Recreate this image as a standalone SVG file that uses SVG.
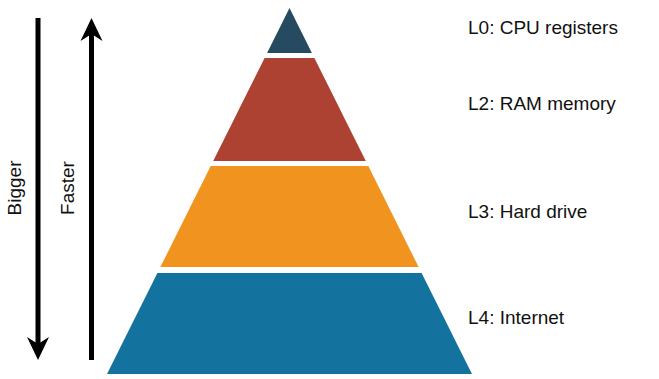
<svg xmlns="http://www.w3.org/2000/svg" width="659" height="379" viewBox="0 0 659 379">
<style>
.lbl{font-family:"Liberation Sans",Arial,Helvetica,sans-serif;font-size:19px;fill:#111}
.shaft{stroke:#000;stroke-width:5;fill:none}
.head{fill:#000}
</style>
<rect width="659" height="379" fill="#fff"/>
<g id="arrows">
<g id="bigger-arrow">
<line class="shaft" x1="38" y1="18" x2="38" y2="346"/>
<path class="head" d="M38,360 L27,337 L38,344 L49,337 Z"/>
</g>
<g id="faster-arrow">
<line class="shaft" x1="91.5" y1="360" x2="91.5" y2="32"/>
<path class="head" d="M91.5,18 L80.5,41 L91.5,34 L102.5,41 Z"/>
</g>
</g>
<text class="lbl" text-anchor="middle" transform="translate(21,188) rotate(-90)">Bigger</text>
<text class="lbl" text-anchor="middle" transform="translate(74,188) rotate(-90)">Faster</text>
<g id="L0">
<polygon points="289.5,8 311.9,53 267.1,53" fill="#264a60"/>
<text class="lbl" x="468" y="34">L0: CPU registers</text>
</g>
<g id="L2">
<polygon points="264.6,58 314.4,58 365.8,161 213.2,161" fill="#ae4232"/>
<text class="lbl" x="468" y="110">L2: RAM memory</text>
</g>
<g id="L3">
<polygon points="210.7,166 368.3,166 418.6,267 160.4,267" fill="#f0941f"/>
<text class="lbl" x="468" y="218">L3: Hard drive</text>
</g>
<g id="L4">
<polygon points="157.4,273 421.6,273 472,374 107,374" fill="#13739e"/>
<text class="lbl" x="468" y="324">L4: Internet</text>
</g>
</svg>
